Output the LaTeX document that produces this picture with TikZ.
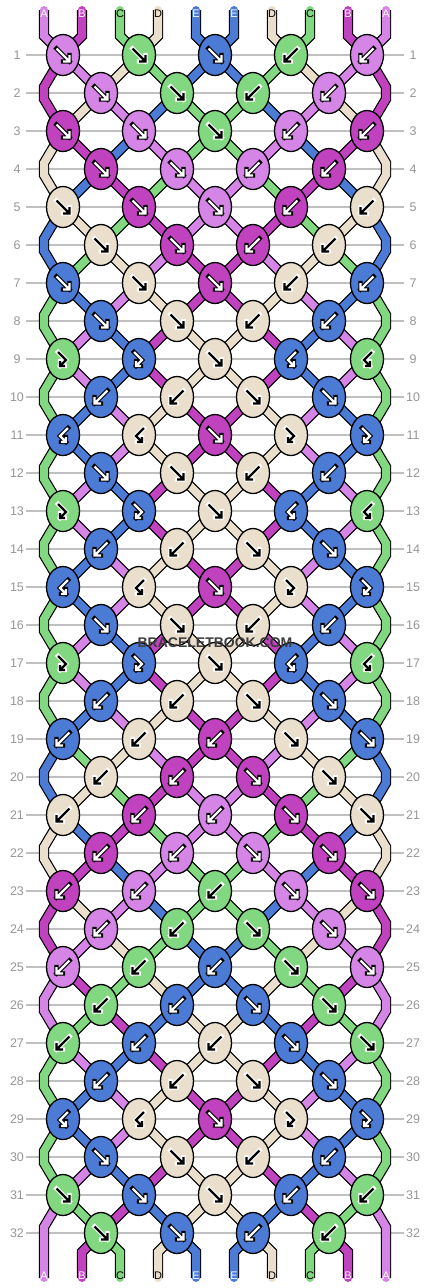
\documentclass[tikz,border=0pt]{standalone}
\usepackage{fontspec}
\setmainfont{Liberation Sans}
\usetikzlibrary{shapes.geometric}
\definecolor{cA}{RGB}{213,133,229}
\definecolor{cB}{RGB}{193,66,191}
\definecolor{cC}{RGB}{129,216,128}
\definecolor{cD}{RGB}{234,223,205}
\definecolor{cE}{RGB}{76,123,214}
\colorlet{fgA}{white}\colorlet{fgB}{white}\colorlet{fgC}{black}\colorlet{fgD}{black}\colorlet{fgE}{white}
\colorlet{bgA}{black}\colorlet{bgB}{black}\colorlet{bgC}{white}\colorlet{bgD}{white}\colorlet{bgE}{black}
\definecolor{gridc}{RGB}{192,192,192}
\definecolor{numc}{RGB}{150,150,150}
\definecolor{wmc}{RGB}{60,60,60}
\pgfdeclarelayer{background}
\pgfsetlayers{background,main}
\newcommand\kpath[1]{%
  \draw[draw=\bgc,line width=4.4pt,line cap=rect,line join=miter] #1;
  \draw[draw=\fgc,line width=2.4pt,line cap=butt,line join=miter] #1;}
\newcommand\arrowf{\kpath{(-6.5,-6.5) -- (6.5,6.5) (0,6.5) -- (6.5,6.5) -- (6.5,0)}}
\newcommand\arrowb{\kpath{(6.5,-6.5) -- (-6.5,6.5) (0,6.5) -- (-6.5,6.5) -- (-6.5,0)}}
\newcommand\arrowfb{\kpath{(-5,-7) -- (3,1) -- (-3,7) (2,7) -- (-3,7) -- (-3,2)}}
\newcommand\arrowbf{\kpath{(5,-7) -- (-3,1) -- (3,7) (-2,7) -- (3,7) -- (3,2)}}
\tikzset{
  knot/.style={ellipse,draw=black,line width=1.3pt,minimum width=33pt,minimum height=41pt,inner sep=0pt},
  strand/.style={draw=#1,line width=8pt,line join=miter,preaction={draw=black,line width=10.4pt}},
  gridline/.style={draw=gridc,line width=1.3pt},
  rownum/.style={text=numc,font=\fontsize{12.5}{14}\selectfont,inner sep=0pt},
  strandlbl/.style={font=\fontsize{11}{12}\selectfont,inner sep=0pt},
}
\begin{document}
\begin{tikzpicture}[x=1pt,y=-1pt]
\useasboundingbox (0,0) rectangle (430,1288);
\begin{pgfonlayer}{background}
\fill[white] (0,0) rectangle (430,1288);
\foreach \r in {1,...,32} {
  \pgfmathsetmacro\ky{55+38*(\r-1)}
  \draw[gridline] (26,\ky) -- (404,\ky);
}
\end{pgfonlayer}
% knots
\foreach \r/\kl in {
1/{f/A,f/C,f/E,b/C,b/A},
2/{f/A,f/C,b/C,b/A},
3/{f/B,f/A,f/C,b/A,b/B},
4/{f/B,f/A,b/A,b/B},
5/{f/D,f/B,f/A,b/B,b/D},
6/{f/D,f/B,b/B,b/D},
7/{f/E,f/D,f/B,b/D,b/E},
8/{f/E,f/D,b/D,b/E},
9/{fb/C,fb/E,f/D,bf/E,bf/C},
10/{b/E,b/D,f/D,f/E},
11/{bf/E,bf/D,f/B,fb/D,fb/E},
12/{f/E,f/D,b/D,b/E},
13/{fb/C,fb/E,f/D,bf/E,bf/C},
14/{b/E,b/D,f/D,f/E},
15/{bf/E,bf/D,f/B,fb/D,fb/E},
16/{f/E,f/D,b/D,b/E},
17/{fb/C,fb/E,f/D,bf/E,bf/C},
18/{b/E,b/D,f/D,f/E},
19/{b/E,b/D,b/B,f/D,f/E},
20/{b/D,b/B,f/B,f/D},
21/{b/D,b/B,b/A,f/B,f/D},
22/{b/B,b/A,f/A,f/B},
23/{b/B,b/A,b/C,f/A,f/B},
24/{b/A,b/C,f/C,f/A},
25/{b/A,b/C,b/E,f/C,f/A},
26/{b/C,b/E,f/E,f/C},
27/{b/C,b/E,b/D,f/E,f/C},
28/{b/E,b/D,f/D,f/E},
29/{bf/E,bf/D,f/B,fb/D,fb/E},
30/{f/E,f/D,b/D,b/E},
31/{f/C,f/E,f/D,b/E,b/C},
32/{f/C,f/E,b/E,b/C}} {
  \foreach \t/\c [count=\k] in \kl {
    \pgfmathsetmacro\kx{ifthenelse(mod(\r,2)==1,63,101)+76*(\k-1)}
    \pgfmathsetmacro\ky{55+38*(\r-1)}
    \node[knot,fill=c\c] (n\r-\k) at (\kx,\ky) {};
    \def\fgc{fg\c}\def\bgc{bg\c}
    \begin{scope}[shift={(n\r-\k.center)}]
      \csname arrow\t\endcsname
    \end{scope}
  }
}
% row numbers
\foreach \r in {1,...,32} {
  \pgfmathsetmacro\ky{55+38*(\r-1)}
  \node[rownum] (ll\r) at (17,\ky) {\r};
  \node[rownum] (rl\r) at (413,\ky) {\r};
}
% interior strand segments
\begin{pgfonlayer}{background}
\foreach \r/\st in {
1/{B,A,D,C,E,E,C,D,A,B},
2/{B,D,A,E,C,C,E,A,D,B},
3/{D,B,E,A,C,C,A,E,B,D},
4/{D,E,B,C,A,A,C,B,E,D},
5/{E,D,C,B,A,A,B,C,D,E},
6/{E,C,D,A,B,B,A,D,C,E},
7/{C,E,A,D,B,B,D,A,E,C},
8/{C,A,E,B,D,D,B,E,A,C},
9/{C,A,E,B,D,D,B,E,A,C},
10/{C,E,A,D,B,B,D,A,E,C},
11/{C,E,A,D,B,B,D,A,E,C},
12/{C,A,E,B,D,D,B,E,A,C},
13/{C,A,E,B,D,D,B,E,A,C},
14/{C,E,A,D,B,B,D,A,E,C},
15/{C,E,A,D,B,B,D,A,E,C},
16/{C,A,E,B,D,D,B,E,A,C},
17/{C,A,E,B,D,D,B,E,A,C},
18/{C,E,A,D,B,B,D,A,E,C},
19/{E,C,D,A,B,B,A,D,C,E},
20/{E,D,C,B,A,A,B,C,D,E},
21/{D,E,B,C,A,A,C,B,E,D},
22/{D,B,E,A,C,C,A,E,B,D},
23/{B,D,A,E,C,C,E,A,D,B},
24/{B,A,D,C,E,E,C,D,A,B},
25/{A,B,C,D,E,E,D,C,B,A},
26/{A,C,B,E,D,D,E,B,C,A},
27/{C,A,E,B,D,D,B,E,A,C},
28/{C,E,A,D,B,B,D,A,E,C},
29/{C,E,A,D,B,B,D,A,E,C},
30/{C,A,E,B,D,D,B,E,A,C},
31/{A,C,B,E,D,D,E,B,C,A}} {
  \foreach \c [count=\p] in \st {
    \ifnum\p>1 \ifnum\p<10
      \pgfmathtruncatemacro\ka{ifthenelse(mod(\r,2)==1,floor((\p+1)/2),floor(\p/2))}
      \pgfmathtruncatemacro\kb{ifthenelse(mod(\r,2)==1,floor(\p/2),floor((\p+1)/2))}
      \pgfmathtruncatemacro\rn{\r+1}
      \draw[strand=c\c] (n\r-\ka.center) -- (n\rn-\kb.center);
    \fi\fi
  }
}
% edge zigzags
\foreach \e/\c in {2/B,4/D,6/E,8/C,10/C,12/C,14/C,16/C,18/C,20/E,22/D,24/B,26/A,28/C,30/C} {
  \pgfmathtruncatemacro\ra{\e-1}
  \pgfmathtruncatemacro\rb{\e+1}
  \pgfmathsetmacro\eya{55+38*(\e-1)-6}
  \pgfmathsetmacro\eyb{55+38*(\e-1)+6}
  \draw[strand=c\c] (n\ra-1.center) -- (44,\eya) -- (44,\eyb) -- (n\rb-1.center);
  \draw[strand=c\c] (n\ra-5.center) -- (386,\eya) -- (386,\eyb) -- (n\rb-5.center);
}
\end{pgfonlayer}
% top and bottom strand ends
\foreach \c [count=\p] in {A,B,C,D,E,E,D,C,B,A} {
  \pgfmathsetmacro\sx{44+38*(\p-1)}
  \pgfmathtruncatemacro\ka{floor((\p+1)/2)}
  \pgfmathtruncatemacro\kb{floor(\p/2)}
  \coordinate (top\p) at (\sx,10);
  \coordinate (bot\p) at (\sx,1278);
  \begin{pgfonlayer}{background}
    \draw[strand=c\c,line cap=round] (top\p) -- (\sx,36) -- (n1-\ka.center);
    \ifnum\p=1
      \draw[strand=c\c,line cap=round] (n31-1.center) -- (\sx,1227) -- (bot\p);
    \else\ifnum\p=10
      \draw[strand=c\c,line cap=round] (n31-5.center) -- (\sx,1227) -- (bot\p);
    \else
      \draw[strand=c\c,line cap=round] (n32-\kb.center) -- (\sx,1252) -- (bot\p);
    \fi\fi
  \end{pgfonlayer}
  \node[strandlbl,text=fg\c] (tl\p) at (\sx,13.5) {\c};
  \node[strandlbl,text=fg\c] (bl\p) at (\sx,1276) {\c};
}
% watermark
\node[font=\bfseries\fontsize{14}{16}\selectfont,text=wmc,inner sep=0pt] (wm) at (215,643) {BRACELETBOOK.COM};
\end{tikzpicture}
\end{document}
